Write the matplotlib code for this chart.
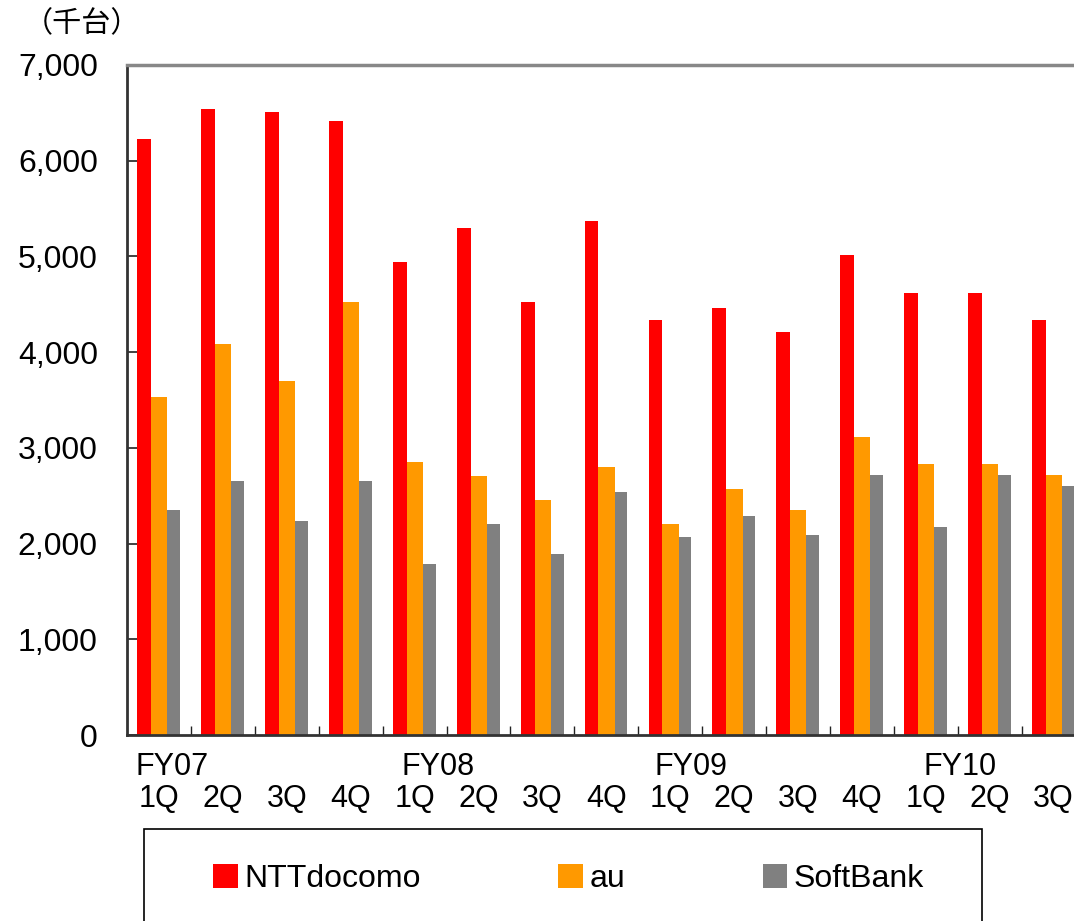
import matplotlib
matplotlib.use("Agg")
import matplotlib.pyplot as plt
from matplotlib.patches import Rectangle, Patch
import numpy as np

# ---- data ----
quarters = ["1Q", "2Q", "3Q", "4Q", "1Q", "2Q", "3Q", "4Q",
            "1Q", "2Q", "3Q", "4Q", "1Q", "2Q", "3Q"]
fiscal_years = ["FY07", "FY08", "FY09", "FY10"]
fy_start_index = [0, 4, 8, 12]
docomo = [6230, 6545, 6510, 6410, 4940, 5300, 4520, 5365,
          4340, 4460, 4210, 5020, 4620, 4620, 4340]
au = [3530, 4090, 3695, 4520, 2850, 2710, 2450, 2800,
      2200, 2570, 2350, 3110, 2830, 2830, 2715]
softbank = [2350, 2650, 2235, 2650, 1785, 2200, 1890, 2535,
            2065, 2285, 2090, 2715, 2170, 2715, 2600]
series_names = ["NTTdocomo", "au", "SoftBank"]
y_ticks = [0, 1000, 2000, 3000, 4000, 5000, 6000, 7000]
unit_label = "（千台）"

colors = ["#FF0000", "#FF9900", "#808080"]

plt.rcParams['font.family'] = ['Liberation Sans', 'DejaVu Sans']

W, H = 1074, 921
fig = plt.figure(figsize=(W / 100, H / 100), dpi=100)
ax = fig.add_axes([127 / W, (H - 735) / H, (1085.5 - 127) / W, 670 / H])

x = np.arange(len(quarters))
ax.bar(x - 0.23, docomo, width=0.215, color=colors[0], linewidth=0, zorder=2)
ax.bar(x + 0.005, au, width=0.255, color=colors[1], linewidth=0, zorder=2)
ax.bar(x + 0.2325, softbank, width=0.2, color=colors[2], linewidth=0, zorder=2)

ax.set_xlim(-0.5, len(quarters) - 0.5)
ax.set_ylim(0, 7000)
ax.set_yticks(y_ticks)
ax.set_yticklabels([f"{v:,}" for v in y_ticks], fontsize=23)
ax.tick_params(axis='y', direction='in', length=7.5, width=1.2, color='#222222', pad=21)

ax.set_xticks(x)
ax.set_xticklabels(quarters, fontsize=22)
ax.tick_params(axis='x', which='major', length=0, pad=35)
ax.set_xticks(np.arange(0.5, len(quarters) - 0.5, 1.0), minor=True)
ax.tick_params(axis='x', which='minor', direction='in', length=6.5, width=1.0, color='#222222')

ax.spines['left'].set_color('#333333')
ax.spines['left'].set_linewidth(2.0)
ax.spines['bottom'].set_color('#333333')
ax.spines['bottom'].set_linewidth(2.0)
ax.spines['top'].set_color('#888888')
ax.spines['top'].set_linewidth(2.5)
ax.spines['right'].set_color('#888888')
ax.spines['right'].set_linewidth(2.5)

# fiscal year labels above quarter labels
fy_offsets = [0.2, 0.37, 0.33, 0.53]
for name, idx, off in zip(fiscal_years, fy_start_index, fy_offsets):
    ax.text(idx + off, -40 / 670, name, transform=ax.get_xaxis_transform(),
            ha='center', va='baseline', fontsize=22)

# unit label
fig.text(82 / W, 1 - 24 / H, unit_label, ha='center', va='center', fontsize=21,
         family=['Noto Sans CJK JP', 'DejaVu Sans'])

# legend box
fig.patches.append(Rectangle((144 / W, -0.05), (982 - 144) / W, (921 - 829) / H + 0.05,
                             transform=fig.transFigure, fill=False,
                             edgecolor='black', linewidth=1.2))
handles = [Patch(facecolor=c, edgecolor='none') for c in colors]
fig.legend(handles, series_names, loc='center left',
           bbox_to_anchor=(213 / W, 1 - 879 / H), ncol=3, frameon=False,
           fontsize=23, handlelength=0.78, handleheight=0.78,
           handletextpad=0.2, columnspacing=4.3, borderpad=0, borderaxespad=0)

fig.savefig("out.png", dpi=100)
